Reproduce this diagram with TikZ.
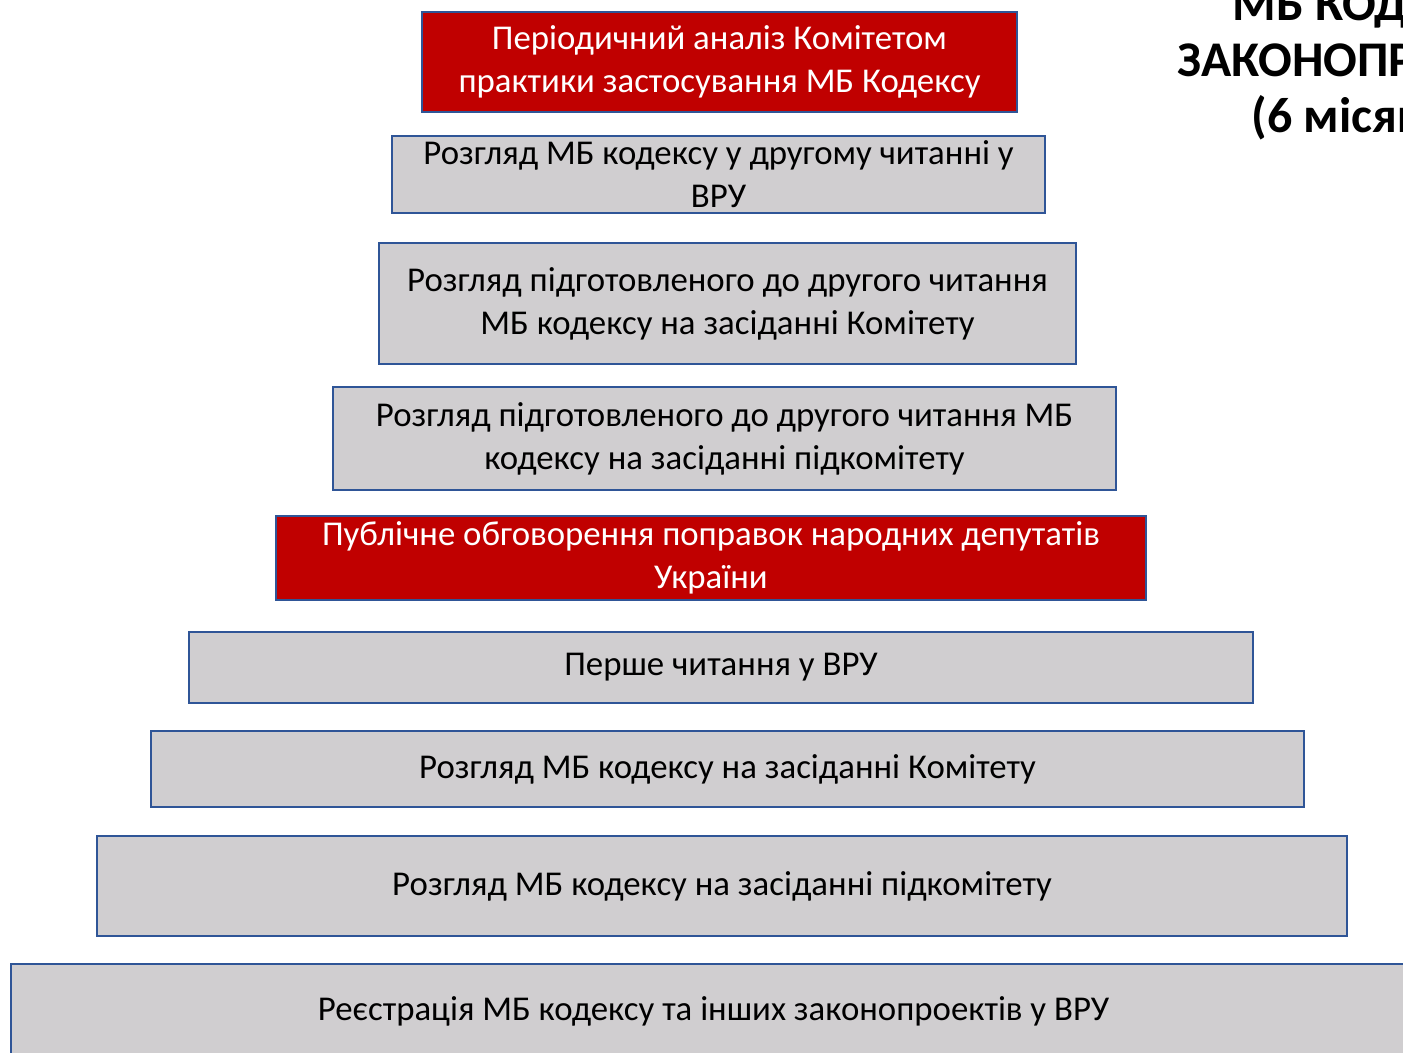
\documentclass[tikz,border=0pt]{standalone}
\usepackage{fontspec}
\setmainfont{Carlito}
\usepackage{tikz}
\usetikzlibrary{positioning}
\definecolor{etapgray}{HTML}{D0CED0}
\definecolor{etapblue}{HTML}{2F5597}
\definecolor{etapred}{HTML}{C00000}
\tikzstyle{etap} = [draw=etapblue, fill=etapgray, line width=0.7pt, rectangle, align=center, inner sep=0pt, font=\fontsize{9.9}{12.2}\selectfont]
\tikzstyle{etapchervonyi} = [etap, fill=etapred, text=white]
\tikzstyle{zagolovok} = [anchor=base west, inner sep=0pt, font=\fontsize{14.2}{16}\selectfont\bfseries]

\begin{document}
\begin{tikzpicture}[x=0.1mm, y=-0.1mm]
					\useasboundingbox (0,0) rectangle (1403,1053);
					% etapy, znyzu vgoru
					\node [etap, minimum width=140.5mm, minimum height=9.4mm] (reiestratsiia) at (713.5,1011) {Реєстрація МБ кодексу та інших законопроектів у ВРУ};
					\node [etap, minimum width=125mm, minimum height=10mm] (pidkomitet) at (722,886) {Розгляд МБ кодексу на засіданні підкомітету};
					\node [etap, minimum width=115.3mm, minimum height=7.6mm] (komitet) at (727.5,769) {Розгляд МБ кодексу на засіданні Комітету};
					\node [etap, minimum width=106.4mm, minimum height=7.1mm] (pershe) at (721,667.5) {Перше читання у ВРУ};
					\node [etapchervonyi, minimum width=87mm, minimum height=8.4mm] (obgovorennia) at (711,558) {Публічне обговорення поправок народних депутатів\\України};
					\node [etap, minimum width=78.3mm, minimum height=10.3mm] (drugepidkom) at (724.5,438.5) {Розгляд підготовленого до другого читання МБ\\кодексу на засіданні  підкомітету};
					\node [etap, minimum width=69.7mm, minimum height=12.1mm] (drugekom) at (727.5,303.5) {Розгляд підготовленого до другого читання\\МБ кодексу на засіданні Комітету};
					\node [etap, minimum width=65.3mm, minimum height=7.7mm] (druge) at (718.5,174.5) {Розгляд МБ кодексу у другому читанні у\\ВРУ};
					\node [etapchervonyi, minimum width=59.5mm, minimum height=10mm] (analiz) at (719.5,62) {Періодичний аналіз Комітетом\\практики застосування МБ Кодексу};
					% zagolovok
					\node [zagolovok] (zag1) at (1232,21) {МБ КОД};
					\node [zagolovok] (zag2) at (1177,77) {ЗАКОНОПР};
					\node [zagolovok] (zag3) at (1251,133) {(6 місяц};
\end{tikzpicture}
\end{document}
